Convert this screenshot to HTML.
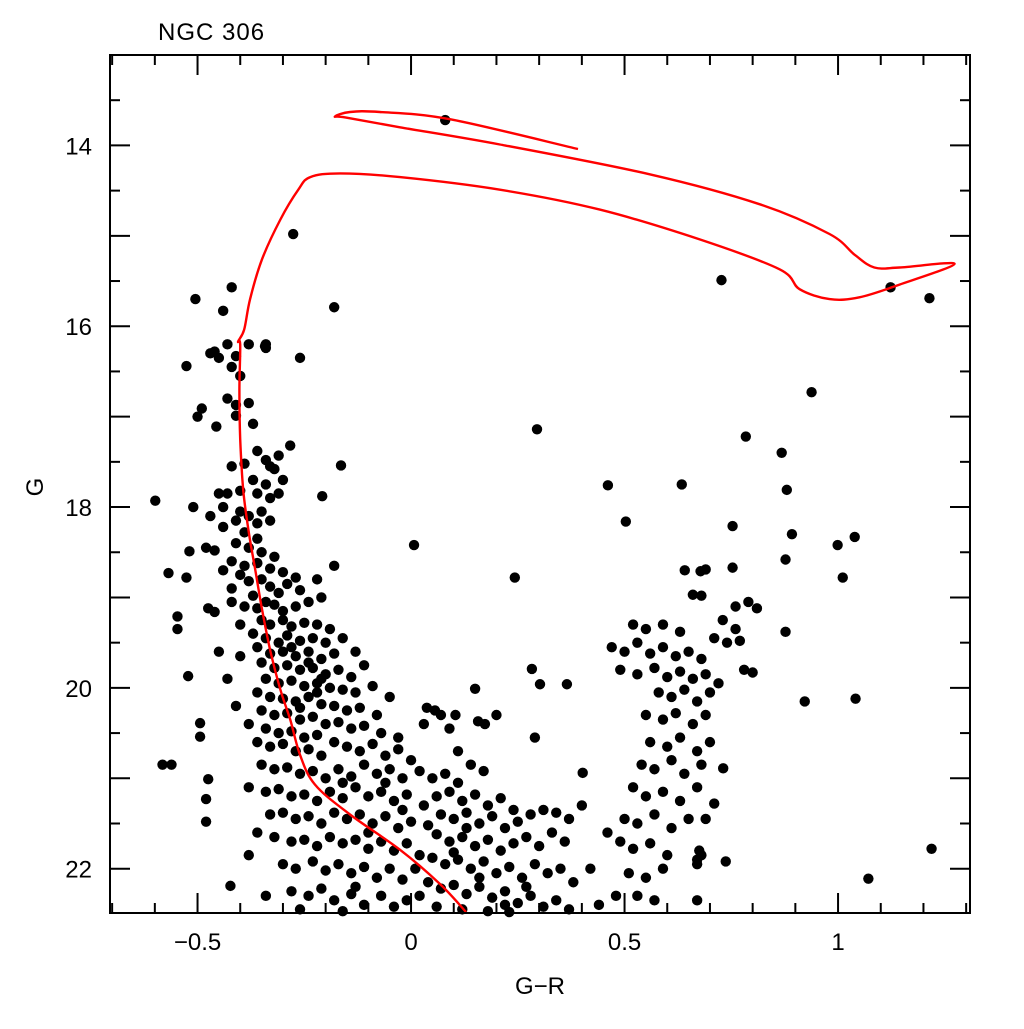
<!DOCTYPE html>
<html><head><meta charset="utf-8"><style>
html,body{margin:0;padding:0;background:#fff;}
svg text{font-family:"Liberation Sans",sans-serif;fill:#000;}
</style></head><body>
<svg id="chart" width="1024" height="1024" viewBox="0 0 1024 1024" xmlns="http://www.w3.org/2000/svg">
<rect x="0" y="0" width="1024" height="1024" fill="#fff"/>
<text x="158" y="40" font-size="24" letter-spacing="1">NGC 306</text>
<text x="0" y="0" font-size="24" text-anchor="middle" transform="translate(43,487) rotate(-90)">G</text>
<text x="540" y="994" font-size="24" text-anchor="middle">G−R</text>
<g id="ticks"></g>
<g id="stars"></g>
<path id="iso" fill="none" stroke="#ff0000" stroke-width="2.4" stroke-linejoin="round"/>
<rect x="110" y="55" width="860" height="858" fill="none" stroke="#000" stroke-width="2"/>
</svg>
<script>
const X0=-0.705, X1=1.309, Y0=13.0, Y1=22.49;
const PL=110, PR=970, PT=55, PB=913;
function sx(v){return PL+(v-X0)/(X1-X0)*(PR-PL);}
function sy(v){return PT+(v-Y0)/(Y1-Y0)*(PB-PT);}
const xTickLabels=["−0.5","0","0.5","1"];
const xTickValues=[-0.5,0,0.5,1];
const yTickLabels=["14","16","18","20","22"];
const yTickValues=[14,16,18,20,22];

const isoGR=[0.129,0.068,-0.026,-0.143,-0.225,-0.260,-0.283,-0.306,-0.330,-0.349,-0.365,-0.381,-0.393,-0.400,-0.402,-0.400,-0.405,-0.391,-0.377,-0.349,-0.306,-0.264,-0.236,-0.166,-0.026,0.208,0.442,0.676,0.863,0.910,0.980,1.050,1.144,1.273,1.144,1.085,1.039,0.980,0.816,0.559,0.208,-0.026,-0.154,-0.178,-0.143,-0.073,0.091,0.391];
const isoG=[22.48,22.17,21.79,21.40,21.07,20.74,20.35,20.02,19.58,19.13,18.69,18.25,17.81,17.25,16.70,16.20,16.17,16.04,15.70,15.26,14.82,14.49,14.35,14.31,14.35,14.49,14.71,15.04,15.37,15.59,15.70,15.68,15.54,15.31,15.35,15.35,15.21,14.98,14.65,14.32,13.99,13.80,13.69,13.68,13.63,13.63,13.71,14.04];

const isolatedStars=[[0.08,13.72],[-0.276,14.98],[-0.42,15.57],[-0.505,15.70],[-0.44,15.83],[-0.18,15.79],[0.727,15.49],[1.123,15.57],[1.214,15.69],[0.938,16.73],[0.295,17.14],[0.784,17.22],[0.868,17.40],[0.461,17.76],[0.634,17.75],[0.88,17.81],[0.503,18.16],[0.753,18.21],[0.892,18.30],[1.039,18.33],[0.999,18.42],[0.007,18.42],[0.243,18.78],[0.641,18.70],[0.678,18.71],[0.69,18.69],[0.753,18.67],[0.877,18.58],[-0.599,17.93],[-0.208,17.88],[-0.164,17.54],[-0.283,17.32],[-0.26,16.35],[-0.342,16.22],[-0.526,16.44],[-0.49,16.91],[-0.456,17.11],[-0.568,18.73],[-0.519,18.49],[-0.526,18.78],[-0.547,19.21],[-0.547,19.35],[-0.475,19.12],[-0.46,19.16],[-0.522,19.87],[-0.494,20.39],[-0.494,20.54],[-0.582,20.85],[-0.561,20.85],[-0.475,21.01],[-0.48,21.23],[-0.48,21.48],[-0.423,22.19],[0.15,20.01],[0.283,19.79],[0.302,19.96],[0.365,19.96],[0.29,20.55],[0.402,20.94],[0.104,20.3],[0.157,20.37],[0.173,20.4],[0.037,20.22],[0.056,20.25],[1.011,18.78],[0.877,19.38],[0.922,20.15],[1.041,20.12],[1.219,21.78],[1.071,22.11],[0.737,21.92],[0.675,21.8],[0.67,21.9],[0.731,20.89],[-0.50,17.0],[-0.51,18.0],[-0.48,18.45],[-0.47,16.3],[-0.45,16.35],[-0.42,16.45]];

const msUpper=[[-0.43,16.2],[-0.46,16.28],[-0.41,16.33],[-0.38,16.2],[-0.34,16.2],[-0.34,16.24],[-0.40,16.55],[-0.43,16.8],[-0.41,16.87],[-0.38,16.85],[-0.41,16.99],[-0.37,17.08],[-0.36,17.38],[-0.34,17.48],[-0.33,17.55],[-0.31,17.43],[-0.32,17.58],[-0.39,17.52],[-0.42,17.55],[-0.37,17.7],[-0.34,17.75],[-0.30,17.7],[-0.45,17.85],[-0.43,17.85],[-0.40,17.82],[-0.36,17.85],[-0.33,17.9],[-0.31,17.85],[-0.44,18.0],[-0.40,18.05],[-0.38,18.1],[-0.35,18.05],[-0.41,18.15],[-0.36,18.18],[-0.33,18.15],[-0.44,18.22],[-0.39,18.28],[-0.36,18.35],[-0.41,18.4],[-0.38,18.45],[-0.35,18.5],[-0.32,18.55],[-0.46,18.48],[-0.42,18.6],[-0.39,18.65],[-0.36,18.62],[-0.33,18.68],[-0.30,18.72],[-0.27,18.78],[-0.40,18.75],[-0.38,18.82],[-0.35,18.8],[-0.33,18.88],[-0.31,18.95],[-0.29,18.85],[-0.26,18.92],[-0.22,18.8],[-0.18,18.65],[-0.42,18.9],[-0.37,18.98],[-0.34,19.05],[-0.42,19.05],[-0.39,19.1],[-0.36,19.12],[-0.32,19.08],[-0.30,19.15],[-0.27,19.1],[-0.24,19.05],[-0.21,19.0],[-0.44,18.7],[-0.47,18.1]];

const msMid=[[-0.35,19.25],[-0.33,19.3],[-0.30,19.25],[-0.28,19.32],[-0.25,19.28],[-0.22,19.3],[-0.19,19.35],[-0.37,19.4],[-0.34,19.45],[-0.31,19.5],[-0.29,19.42],[-0.26,19.48],[-0.23,19.45],[-0.20,19.5],[-0.16,19.45],[-0.13,19.6],[-0.36,19.55],[-0.33,19.62],[-0.30,19.6],[-0.27,19.65],[-0.24,19.6],[-0.21,19.68],[-0.18,19.62],[-0.40,19.65],[-0.35,19.72],[-0.32,19.78],[-0.29,19.75],[-0.26,19.8],[-0.23,19.78],[-0.20,19.85],[-0.17,19.8],[-0.14,19.88],[-0.11,19.75],[-0.34,19.9],[-0.31,19.95],[-0.28,19.92],[-0.25,19.98],[-0.22,19.95],[-0.19,20.0],[-0.16,20.02],[-0.13,20.05],[-0.09,19.98],[-0.05,20.1],[-0.36,20.05],[-0.33,20.1],[-0.30,20.12],[-0.27,20.15],[-0.24,20.1],[-0.21,20.18],[-0.18,20.2],[-0.15,20.25],[-0.12,20.22],[-0.08,20.3],[-0.35,20.25],[-0.32,20.3],[-0.29,20.28],[-0.26,20.35],[-0.23,20.32],[-0.20,20.4],[-0.17,20.38],[-0.14,20.45],[-0.11,20.42],[-0.07,20.5],[-0.03,20.55],[-0.38,20.4],[-0.34,20.45],[-0.31,20.5],[-0.28,20.48],[-0.25,20.55],[-0.22,20.52],[-0.41,20.2],[-0.43,19.9],[-0.45,19.6],[-0.40,19.3],[-0.28,19.55],[-0.24,19.72],[-0.21,19.9],[-0.26,20.22],[-0.22,20.05]];

const msLower=[[-0.36,20.6],[-0.33,20.65],[-0.30,20.62],[-0.27,20.7],[-0.24,20.68],[-0.21,20.75],[-0.18,20.6],[-0.15,20.65],[-0.12,20.7],[-0.09,20.62],[-0.06,20.75],[-0.03,20.68],[0.0,20.8],[-0.35,20.85],[-0.32,20.9],[-0.29,20.88],[-0.26,20.95],[-0.23,20.92],[-0.20,21.0],[-0.17,20.9],[-0.14,20.98],[-0.11,20.85],[-0.08,20.95],[-0.05,20.9],[-0.02,21.0],[0.02,20.92],[-0.38,21.1],[-0.34,21.15],[-0.31,21.12],[-0.28,21.2],[-0.25,21.18],[-0.22,21.25],[-0.19,21.15],[-0.16,21.22],[-0.13,21.1],[-0.10,21.2],[-0.07,21.15],[-0.04,21.25],[-0.01,21.18],[0.03,21.3],[-0.33,21.4],[-0.30,21.38],[-0.27,21.45],[-0.24,21.42],[-0.21,21.5],[-0.18,21.38],[-0.15,21.45],[-0.12,21.4],[-0.09,21.5],[-0.06,21.42],[-0.03,21.55],[0.0,21.48],[0.04,21.52],[-0.32,21.65],[-0.28,21.7],[-0.25,21.68],[-0.22,21.75],[-0.19,21.65],[-0.16,21.72],[-0.13,21.68],[-0.10,21.78],[-0.07,21.7],[-0.04,21.8],[-0.01,21.72],[0.02,21.85],[-0.30,21.95],[-0.27,22.0],[-0.23,21.92],[-0.20,22.02],[-0.17,21.95],[-0.14,22.05],[-0.11,21.98],[-0.08,22.1],[-0.05,22.0],[-0.02,22.12],[-0.28,22.25],[-0.24,22.3],[-0.21,22.22],[-0.18,22.35],[-0.14,22.28],[-0.11,22.4],[-0.07,22.3],[-0.04,22.42],[-0.01,22.35],[-0.26,22.45],[-0.16,22.47],[-0.36,21.6],[-0.38,21.85],[-0.34,22.3],[-0.16,21.05],[-0.06,21.05],[-0.02,21.35],[-0.10,21.6],[0.01,22.0],[-0.13,22.2]];

const faintBlob=[[0.05,21.0],[0.08,20.95],[0.11,21.05],[0.14,20.85],[0.17,20.92],[0.06,21.2],[0.09,21.15],[0.12,21.25],[0.15,21.18],[0.18,21.3],[0.21,21.22],[0.24,21.35],[0.07,21.4],[0.10,21.45],[0.13,21.38],[0.16,21.5],[0.19,21.42],[0.22,21.55],[0.25,21.48],[0.28,21.4],[0.31,21.35],[0.34,21.38],[0.37,21.45],[0.06,21.62],[0.09,21.7],[0.12,21.65],[0.15,21.75],[0.18,21.68],[0.21,21.8],[0.24,21.72],[0.27,21.65],[0.30,21.75],[0.33,21.6],[0.36,21.7],[0.05,21.88],[0.08,21.95],[0.11,21.9],[0.14,22.0],[0.17,21.92],[0.20,22.05],[0.23,21.98],[0.26,22.1],[0.29,21.95],[0.32,22.05],[0.35,22.0],[0.38,22.15],[0.42,22.0],[0.04,22.15],[0.07,22.22],[0.10,22.18],[0.13,22.28],[0.16,22.2],[0.19,22.32],[0.22,22.25],[0.25,22.38],[0.28,22.3],[0.31,22.42],[0.34,22.35],[0.37,22.45],[0.44,22.4],[0.06,22.42],[0.12,22.45],[0.18,22.47],[0.23,22.48],[0.40,21.3],[0.46,21.6],[0.48,22.3],[0.09,20.45],[0.07,20.3],[0.11,20.7],[0.03,20.4],[0.20,20.3],[0.10,21.82],[0.16,22.1],[0.22,22.4],[0.27,22.2],[0.02,22.3],[0.13,21.55]];

const rightBranch=[[0.52,19.3],[0.55,19.35],[0.59,19.3],[0.63,19.38],[0.47,19.55],[0.50,19.6],[0.53,19.5],[0.56,19.62],[0.59,19.55],[0.62,19.65],[0.65,19.6],[0.68,19.68],[0.71,19.45],[0.74,19.5],[0.49,19.8],[0.53,19.85],[0.57,19.78],[0.60,19.88],[0.63,19.82],[0.66,19.9],[0.69,19.85],[0.72,19.95],[0.58,20.05],[0.61,20.1],[0.64,20.02],[0.67,20.15],[0.70,20.05],[0.55,20.3],[0.59,20.35],[0.62,20.28],[0.66,20.4],[0.69,20.3],[0.56,20.6],[0.60,20.65],[0.63,20.55],[0.67,20.7],[0.70,20.6],[0.54,20.85],[0.57,20.9],[0.61,20.8],[0.64,20.95],[0.68,20.85],[0.52,21.1],[0.55,21.2],[0.59,21.15],[0.63,21.25],[0.67,21.1],[0.50,21.45],[0.53,21.5],[0.57,21.4],[0.61,21.55],[0.65,21.45],[0.49,21.7],[0.52,21.78],[0.56,21.72],[0.60,21.85],[0.51,22.05],[0.55,22.1],[0.59,22.0],[0.53,22.3],[0.57,22.35],[0.67,22.35],[0.68,21.85],[0.67,21.95],[0.71,21.28],[0.69,21.45],[0.73,19.25],[0.76,19.1],[0.79,19.05],[0.81,19.12],[0.76,19.35],[0.66,18.97],[0.68,18.98],[0.77,19.48],[0.78,19.8],[0.80,19.83]];

const NS="http://www.w3.org/2000/svg";
const tg=document.getElementById('ticks');
function line(x1,y1,x2,y2){
  const l=document.createElementNS(NS,'line');
  l.setAttribute('x1',x1);l.setAttribute('y1',y1);l.setAttribute('x2',x2);l.setAttribute('y2',y2);
  l.setAttribute('stroke','#000');l.setAttribute('stroke-width','2');
  
  
  tg.appendChild(l);
}
for(let i=-7;i<=13;i++){
  const v=i/10, x=sx(v), major=(i%5===0), len=major?20:10;
  line(x,PB,x,PB-len); line(x,PT,x,PT+len);
}
for(let i=26;i<=45;i++){
  const v=i/2, y=sy(v), major=(i%2===0), len=major?20:10;
  if(y<PT||y>PB) continue;
  line(PL,y,PL+len,y); line(PR,y,PR-len,y);
}
xTickValues.forEach((v,i)=>{
  const t=document.createElementNS(NS,'text');
  t.setAttribute('x',sx(v));t.setAttribute('y',950);t.setAttribute('font-size','24');t.setAttribute('text-anchor','middle');
  t.textContent=xTickLabels[i];
  
  
  tg.appendChild(t);
});
yTickValues.forEach((v,i)=>{
  const t=document.createElementNS(NS,'text');
  t.setAttribute('x',92);t.setAttribute('y',sy(v)+9);t.setAttribute('font-size','24');t.setAttribute('text-anchor','end');
  t.textContent=yTickLabels[i];
  
  
  tg.appendChild(t);
});
const sg=document.getElementById('stars');
[isolatedStars,msUpper,msMid,msLower,faintBlob,rightBranch].forEach(arr=>arr.forEach(p=>{
  const cx=sx(p[0]), cy=sy(p[1]);
  if(cy>PB+3) return;
  const c=document.createElementNS(NS,'circle');
  c.setAttribute('cx',cx);c.setAttribute('cy',cy);c.setAttribute('r','5.2');c.setAttribute('fill','#000');
  
  
  sg.appendChild(c);
}));
const pts=isoGR.map((v,i)=>[sx(v),sy(isoG[i])]);
let d='M'+pts[0][0].toFixed(1)+','+pts[0][1].toFixed(1);
for(let i=0;i<pts.length-1;i++){
  const p0=pts[Math.max(0,i-1)],p1=pts[i],p2=pts[i+1],p3=pts[Math.min(pts.length-1,i+2)];
  const c1=[p1[0]+(p2[0]-p0[0])/6,p1[1]+(p2[1]-p0[1])/6];
  const c2=[p2[0]-(p3[0]-p1[0])/6,p2[1]-(p3[1]-p1[1])/6];
  d+='C'+c1[0].toFixed(1)+','+c1[1].toFixed(1)+' '+c2[0].toFixed(1)+','+c2[1].toFixed(1)+' '+p2[0].toFixed(1)+','+p2[1].toFixed(1);
}
document.getElementById('iso').setAttribute('d',d);
</script>
</body></html>
